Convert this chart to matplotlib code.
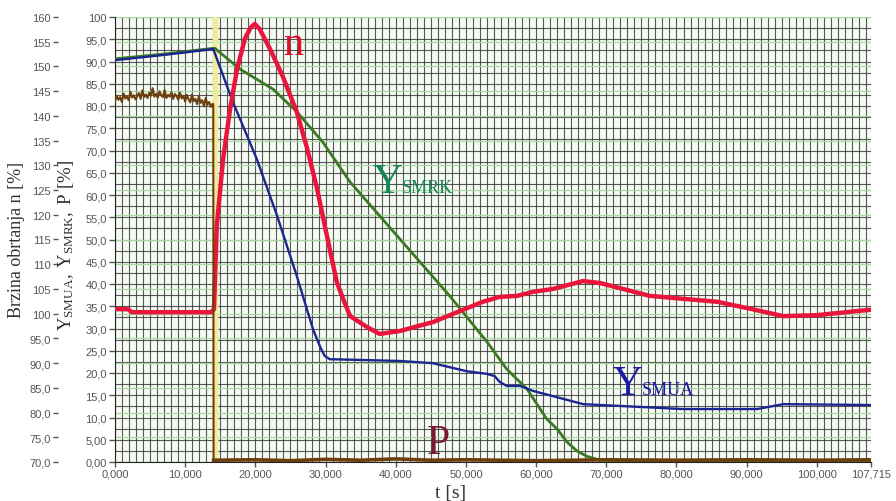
import matplotlib
matplotlib.use("Agg")
import matplotlib.pyplot as plt
import numpy as np

plt.rcParams['mathtext.fontset'] = 'custom'
plt.rcParams['mathtext.rm'] = 'Liberation Serif'

# ---- data ----
# time in seconds, Y_SMUA / Y_SMRK / P in %, n in %
n_t = [0, 1850, 2400, 13700, 14100, 14500, 15400, 16400, 17400, 18500, 19300, 19900,
       20600, 22100, 23900, 25900, 27400, 28800, 30200, 31600, 32500, 33500, 35900,
       37700, 40600, 45300, 49100, 52400, 54800, 57300, 59500, 62400, 66700,
       69100, 76200, 85800, 90500, 95200, 100000, 107715]
n_val = [100.9, 100.9, 100.3, 100.3, 100.9, 117.7, 131.3, 141.4, 149.5, 155.6, 157.8, 158.6,
         157.6, 153.5, 148.0, 140.8, 133.3, 125.2, 115.7, 106.4, 103.0, 99.5, 97.3,
         95.9, 96.5, 98.3, 100.5, 102.4, 103.4, 103.6, 104.4, 105.0, 106.6,
         106.2, 103.6, 102.4, 101.0, 99.5, 99.7, 100.8]

smua_t = [0, 7100, 14000, 16800, 20200, 23100, 25900, 28200, 29300, 29900, 30600, 35900,
          40600, 45300, 47700, 50100, 53000, 54100, 54800, 55800, 57700, 59500,
          62400, 66700, 80900, 91500, 95200, 107715]
smua = [90.3, 91.5, 92.8, 80.9, 68.1, 55.3, 41.8, 29.9, 25.6, 23.8, 23.1, 22.9,
        22.7, 22.2, 21.3, 20.4, 19.8, 19.3, 18.0, 17.1, 17.1, 16.0,
        14.8, 13.0, 11.9, 11.9, 13.0, 12.8]

smrk_t = [0, 7100, 14200, 17800, 22500, 25900, 29600, 33500, 40600, 47700, 53000,
          55800, 58700, 61500, 63000, 64400, 65800, 67200, 69100, 71200, 107715]
smrk = [90.6, 91.7, 93.0, 88.3, 83.8, 78.7, 71.9, 62.9, 50.1, 37.3, 27.0,
        20.9, 16.4, 9.7, 7.4, 4.5, 2.5, 1.3, 0.4, 0.2, 0.2]

# P before the trip (noisy), sampled evenly from 0 to 13.9 s
p_pre = [81.0, 82.3, 81.4, 82.0, 80.9, 82.8, 81.7, 82.1, 81.3, 83.2, 81.9, 82.4,
         81.5, 82.2, 82.9, 81.6, 83.5, 82.0, 82.6, 81.8, 83.0, 82.3, 84.0, 82.1,
         82.7, 81.9, 83.3, 82.4, 82.0, 83.6, 81.8, 82.5, 82.1, 83.1, 81.6, 82.7,
         82.2, 81.4, 83.0, 81.7, 82.3, 81.0, 82.5, 81.5, 80.8, 82.6, 81.1, 81.6,
         80.4, 82.2, 80.7, 81.3, 79.9, 81.8, 80.3, 80.9, 79.8, 80.5]
p_post_t = [14000, 14050, 20000, 25000, 30000, 35000, 40000, 45000, 50000, 60000,
            70000, 80000, 90000, 100000, 107715]
p_post = [80.4, 0.4, 0.5, 0.3, 0.6, 0.4, 0.7, 0.4, 0.5, 0.3, 0.5, 0.4, 0.5, 0.4, 0.5]

trip_t = [14000, 14600]   # yellow marker band

y_ticks = np.arange(0, 101, 5)
y_labels = ['0,00', '5,00'] + [('%.1f' % v).replace('.', ',') for v in range(10, 100, 5)] + ['100']
n_ticks = np.arange(70, 161, 5)
n_labels = [('%.1f' % v).replace('.', ',') if v < 100 else str(v) for v in n_ticks]
x_ticks = list(range(0, 100001, 10000)) + [107715]
x_labels = ['0,000', '10,000', '20,000', '30,000', '40,000', '50,000', '60,000',
            '70,000', '80,000', '90,000', '100,000', '107,715']

PX = 72 / 100   # points per pixel at dpi 100

# ---- figure ----
fig = plt.figure(figsize=(8.96, 5.02), dpi=100)
ax = fig.add_axes([115 / 896, 1 - 463 / 502, 756 / 896, 445 / 502])
ax.set_facecolor('#f5fbf3')
ax.set_xlim(0, 107715)
ax.set_ylim(0, 100)

# grid: dark every 1 s / 2.5 %, green lines on the n scale
for v in np.arange(0, 107001, 1000):
    ax.axvline(v, color='#303030', lw=0.8, alpha=0.8, zorder=0.5)
for v in np.arange(0, 100.1, 2.5):
    ax.axhline(v, color='#303030', lw=0.8, alpha=0.8, zorder=0.5)
for v in n_ticks:
    ax.axhline((v - 70) / 0.9, color='#a6d8a0', lw=0.9, zorder=0.6)

ax.axvspan(trip_t[0], trip_t[1], color='#f2eb9b', zorder=0.8)

y_n = (np.array(n_val) - 70) / 0.9
ax.plot(smrk_t, smrk, color='#3b7a22', lw=2.0, zorder=3)
ax.plot(smua_t, smua, color='#1c2690', lw=1.7, zorder=4)
ax.plot(n_t, y_n, color='#e8163c', lw=3.2, zorder=5)
p_t = np.linspace(0, 13900, len(p_pre))
ax.plot(list(p_t) + p_post_t[:2], p_pre + p_post[:2], color='#6e3f0c', lw=1.5, zorder=6)
ax.plot(p_post_t[1:], p_post[1:], color='#6e3f0c', lw=2.6, zorder=6)

# series labels
ax.text(25400, 91.7, 'n', color='#e0102a', fontsize=29, family='Liberation Serif',
        ha='center', va='baseline', zorder=7)
ax.text(36700, 60.7, 'Y', color='#16855a', fontsize=30, family='Liberation Serif',
        va='baseline', zorder=7)
ax.text(40900, 60.7, 'SMRK', color='#16855a', fontsize=13, family='Liberation Serif',
        va='baseline', zorder=7)
ax.text(70900, 15.3, 'Y', color='#1a1aa8', fontsize=30, family='Liberation Serif',
        va='baseline', zorder=7)
ax.text(75100, 15.3, 'SMUA', color='#1a1aa8', fontsize=13, family='Liberation Serif',
        va='baseline', zorder=7)
ax.text(44400, 2.0, 'P', color='#7a1a30', fontsize=30, family='Liberation Serif',
        va='baseline', zorder=7)

# axes styling
for s in ['top', 'right']:
    ax.spines[s].set_visible(False)
ax.spines['left'].set_color('#222222')
ax.spines['bottom'].set_color('#222222')
ax.set_yticks(y_ticks)
ax.set_yticklabels(y_labels)
ax.set_xticks(x_ticks)
ax.set_xticklabels(x_labels)
ax.tick_params(axis='y', length=6 * PX, width=1, color='#555555', pad=2 * PX,
               labelsize=8, labelcolor='#555555')
ax.tick_params(axis='x', length=5 * PX, width=1, color='#555555', pad=2 * PX,
               labelsize=8, labelcolor='#555555')
for lab in ax.get_xticklabels() + ax.get_yticklabels():
    lab.set_family('Liberation Sans')

# outer n axis
ax2 = ax.twinx()
ax2.set_ylim(70, 160)
ax2.yaxis.set_ticks_position('left')
ax2.spines['left'].set_position(('outward', 57 * PX))
for s in ax2.spines.values():
    s.set_visible(False)
ax2.set_yticks(n_ticks)
ax2.set_yticklabels(n_labels)
ax2.tick_params(axis='y', length=5 * PX, width=1, color='#555555', pad=2 * PX,
                labelsize=8, labelcolor='#555555')
for lab in ax2.get_yticklabels():
    lab.set_family('Liberation Sans')

fig.text(17 / 896, 1 - 240 / 502, 'Brzina obrtanja n [%]', rotation=90,
         fontsize=13, family='Liberation Serif', color='#333333',
         ha='center', va='center')
fig.text(66 / 896, 1 - 245 / 502,
         r'$\mathregular{Y_{SMUA},\, Y_{SMRK},\, P\ [\%]}$', rotation=90,
         fontsize=13.5, family='Liberation Serif', color='#333333',
         ha='center', va='center')
fig.text(451 / 896, 1 - 494 / 502, 't [s]', fontsize=14, family='Liberation Serif',
         color='#333333', ha='center', va='center')

fig.savefig('out.png', dpi=100)
